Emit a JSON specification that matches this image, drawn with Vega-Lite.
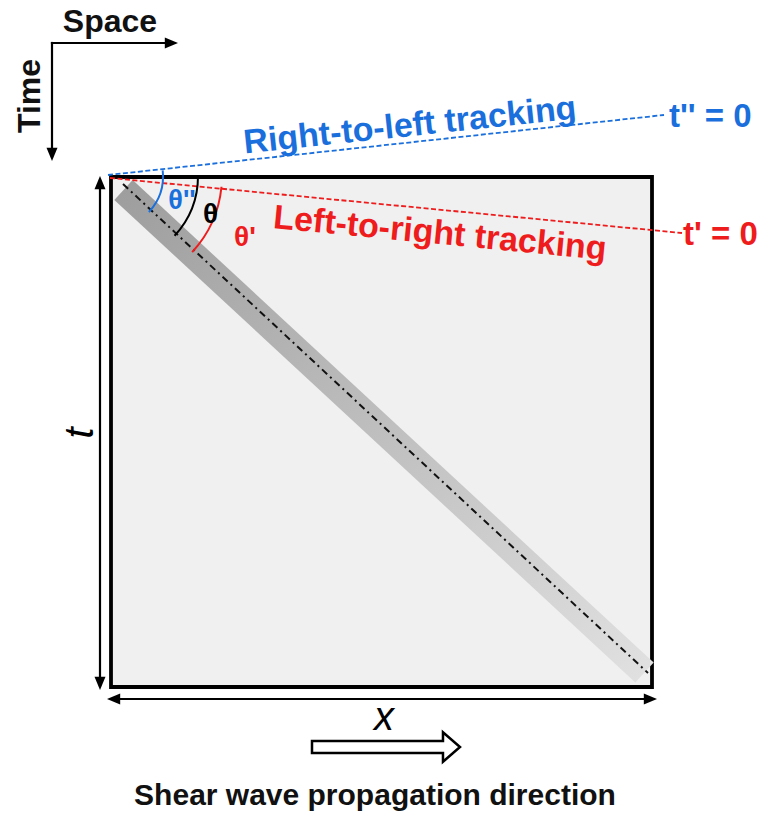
{
  "$schema": "https://vega.github.io/schema/vega-lite/v6.json",
  "width": 763,
  "height": 814,
  "autosize": {"type": "fit", "contains": "padding"},
  "padding": 0,
  "background": "white",
  "config": {"view": {"stroke": null}},
  "datasets": {
    "box": [{"x": 111, "y": 177, "x2": 652, "y2": 687}],
    "band": [{"x": 123.5, "y": 190}, {"x": 644.5, "y": 672.5}],
    "center": [{"x": 123, "y": 184, "x2": 648, "y2": 673}],
    "blue": [{"x": 108, "y": 175, "x2": 664, "y2": 115}],
    "red": [{"x": 110, "y": 178, "x2": 682, "y2": 233}],
    "arcs": [
      {"name": "blue", "x": 110, "y": 176, "a1": 1.463, "a2": 2.318},
      {"name": "black", "x": 110, "y": 176, "a1": 1.571, "a2": 2.318},
      {"name": "red", "x": 110, "y": 176, "a1": 1.667, "a2": 2.318}
    ],
    "arrows": [
      {"name": "space", "x": 52, "y": 43, "x2": 168, "y2": 43},
      {"name": "time", "x": 52, "y": 43, "x2": 52, "y2": 150},
      {"name": "t", "x": 100, "y": 186, "x2": 100, "y2": 680},
      {"name": "x", "x": 117, "y": 699, "x2": 647, "y2": 699}
    ],
    "heads": [
      {"x": 178, "y": 43, "dir": "right"},
      {"x": 52, "y": 161, "dir": "down"},
      {"x": 100, "y": 176, "dir": "up"},
      {"x": 100, "y": 690, "dir": "down"},
      {"x": 107, "y": 699, "dir": "left"},
      {"x": 657, "y": 699, "dir": "right"}
    ],
    "hollow": [{"x": 386, "y": 747}],
    "labels": [
      {"key": "space", "text": "Space", "x": 110, "y": 32},
      {"key": "time", "text": "Time", "x": 40, "y": 96},
      {"key": "rtl", "text": "Right-to-left tracking", "x": 411, "y": 136},
      {"key": "t2", "text": "t'' = 0", "x": 669, "y": 127},
      {"key": "ltr", "text": "Left-to-right tracking", "x": 439, "y": 244},
      {"key": "t1", "text": "t' = 0", "x": 683, "y": 245},
      {"key": "th2", "text": "θ''", "x": 182, "y": 209},
      {"key": "th", "text": "θ", "x": 210.5, "y": 223},
      {"key": "th1", "text": "θ'", "x": 245, "y": 246},
      {"key": "tlab", "text": "t", "x": 93, "y": 433},
      {"key": "xlab", "text": "x", "x": 384, "y": 730},
      {"key": "bottom", "text": "Shear wave propagation direction", "x": 375, "y": 805}
    ]
  },
  "encoding": {
    "x": {"field": "x", "type": "quantitative", "scale": {"domain": [0, 763], "nice": false, "zero": false}, "axis": null},
    "y": {"field": "y", "type": "quantitative", "scale": {"domain": [0, 814], "nice": false, "zero": false, "reverse": true}, "axis": null}
  },
  "layer": [
    {
      "data": {"name": "box"},
      "mark": {"type": "rect", "fill": "#f0f0f0", "stroke": "#000000", "strokeWidth": 3.8},
      "encoding": {"x2": {"field": "x2"}, "y2": {"field": "y2"}}
    },
    {
      "data": {"name": "band"},
      "mark": {"type": "line", "strokeWidth": 27, "strokeCap": "butt",
        "stroke": {"gradient": "linear", "x1": 0, "y1": 0, "x2": 1, "y2": 1,
          "stops": [{"offset": 0, "color": "#9e9e9e"}, {"offset": 1, "color": "#e0e0e0"}]}},
      "encoding": {}
    },
    {
      "data": {"name": "center"},
      "mark": {"type": "rule", "stroke": "#111111", "strokeWidth": 2, "strokeDash": [7, 4, 2, 4]},
      "encoding": {"x2": {"field": "x2"}, "y2": {"field": "y2"}}
    },
    {
      "data": {"name": "blue"},
      "mark": {"type": "rule", "stroke": "#1a6fdc", "strokeWidth": 1.8, "strokeDash": [5, 2.5]},
      "encoding": {"x2": {"field": "x2"}, "y2": {"field": "y2"}}
    },
    {
      "data": {"name": "red"},
      "mark": {"type": "rule", "stroke": "#ee1c1c", "strokeWidth": 1.8, "strokeDash": [5, 2.5]},
      "encoding": {"x2": {"field": "x2"}, "y2": {"field": "y2"}}
    },
    {
      "data": {"name": "arcs"},
      "transform": [{"filter": "datum.name === 'blue'"}],
      "mark": {"type": "arc", "radius": 54, "radius2": 52, "fill": "#1a6fdc"},
      "encoding": {
        "theta": {"field": "a1", "type": "quantitative", "scale": null, "stack": null},
        "theta2": {"field": "a2"}
      }
    },
    {
      "data": {"name": "arcs"},
      "transform": [{"filter": "datum.name === 'black'"}],
      "mark": {"type": "arc", "radius": 89, "radius2": 87, "fill": "#000000"},
      "encoding": {
        "theta": {"field": "a1", "type": "quantitative", "scale": null, "stack": null},
        "theta2": {"field": "a2"}
      }
    },
    {
      "data": {"name": "arcs"},
      "transform": [{"filter": "datum.name === 'red'"}],
      "mark": {"type": "arc", "radius": 113, "radius2": 111, "fill": "#ee1c1c"},
      "encoding": {
        "theta": {"field": "a1", "type": "quantitative", "scale": null, "stack": null},
        "theta2": {"field": "a2"}
      }
    },
    {
      "data": {"name": "arrows"},
      "mark": {"type": "rule", "stroke": "#000000", "strokeWidth": 2.2, "strokeCap": "square"},
      "encoding": {"x2": {"field": "x2"}, "y2": {"field": "y2"}}
    },
    {
      "data": {"name": "heads"},
      "mark": {"type": "point", "filled": true, "opacity": 1, "size": 121, "fill": "#000000", "strokeWidth": 0},
      "encoding": {
        "shape": {"field": "dir", "type": "nominal", "legend": null,
          "scale": {"domain": ["right", "left", "up", "down"],
            "range": ["M0,0L-2.4,-1L-2.4,1Z", "M0,0L2.4,-1L2.4,1Z", "M0,0L-1,2.4L1,2.4Z", "M0,0L-1,-2.4L1,-2.4Z"]}}
      }
    },
    {
      "data": {"name": "hollow"},
      "mark": {"type": "point", "filled": true, "opacity": 1, "size": 21904, "fill": "#ffffff", "stroke": "#000000", "strokeWidth": 2.5,
        "shape": "M-1,-0.081L0.77,-0.081L0.77,-0.2L1,0L0.77,0.2L0.77,0.081L-1,0.081Z"}
    },
    {
      "data": {"name": "labels"},
      "transform": [{"filter": "datum.key === 'bottom'"}],
      "mark": {"type": "text", "font": "Liberation Sans", "fontWeight": "bold", "fontSize": 30, "align": "center", "baseline": "alphabetic", "fill": "#111111"},
      "encoding": {"text": {"field": "text"}}
    },
    {
      "data": {"name": "labels"},
      "transform": [{"filter": "datum.key === 'space'"}],
      "mark": {"type": "text", "font": "Liberation Sans", "fontWeight": "bold", "fontSize": 32, "align": "center", "baseline": "alphabetic", "fill": "#111111"},
      "encoding": {"text": {"field": "text"}}
    },
    {
      "data": {"name": "labels"},
      "transform": [{"filter": "datum.key === 'time'"}],
      "mark": {"type": "text", "font": "Liberation Sans", "fontWeight": "bold", "fontSize": 32, "align": "center", "baseline": "alphabetic", "angle": 270, "fill": "#111111"},
      "encoding": {"text": {"field": "text"}}
    },
    {
      "data": {"name": "labels"},
      "transform": [{"filter": "datum.key === 'rtl'"}],
      "mark": {"type": "text", "font": "Liberation Sans", "fontWeight": "bold", "fontSize": 34, "align": "center", "baseline": "alphabetic", "angle": 354, "fill": "#1a6fdc"},
      "encoding": {"text": {"field": "text"}}
    },
    {
      "data": {"name": "labels"},
      "transform": [{"filter": "datum.key === 't2'"}],
      "mark": {"type": "text", "font": "Liberation Sans", "fontWeight": "bold", "fontSize": 33, "align": "left", "baseline": "alphabetic", "fill": "#1a6fdc"},
      "encoding": {"text": {"field": "text"}}
    },
    {
      "data": {"name": "labels"},
      "transform": [{"filter": "datum.key === 'ltr'"}],
      "mark": {"type": "text", "font": "Liberation Sans", "fontWeight": "bold", "fontSize": 34, "align": "center", "baseline": "alphabetic", "angle": 5.5, "fill": "#ee1c1c"},
      "encoding": {"text": {"field": "text"}}
    },
    {
      "data": {"name": "labels"},
      "transform": [{"filter": "datum.key === 't1'"}],
      "mark": {"type": "text", "font": "Liberation Sans", "fontWeight": "bold", "fontSize": 33, "align": "left", "baseline": "alphabetic", "fill": "#ee1c1c"},
      "encoding": {"text": {"field": "text"}}
    },
    {
      "data": {"name": "labels"},
      "transform": [{"filter": "datum.key === 'th2'"}],
      "mark": {"type": "text", "font": "Liberation Sans", "fontWeight": "bold", "fontSize": 27, "align": "center", "baseline": "alphabetic", "fill": "#1a6fdc"},
      "encoding": {"text": {"field": "text"}}
    },
    {
      "data": {"name": "labels"},
      "transform": [{"filter": "datum.key === 'th'"}],
      "mark": {"type": "text", "font": "Liberation Sans", "fontWeight": "bold", "fontSize": 28, "align": "center", "baseline": "alphabetic", "fill": "#000000"},
      "encoding": {"text": {"field": "text"}}
    },
    {
      "data": {"name": "labels"},
      "transform": [{"filter": "datum.key === 'th1'"}],
      "mark": {"type": "text", "font": "Liberation Sans", "fontWeight": "bold", "fontSize": 28, "align": "center", "baseline": "alphabetic", "fill": "#ee1c1c"},
      "encoding": {"text": {"field": "text"}}
    },
    {
      "data": {"name": "labels"},
      "transform": [{"filter": "datum.key === 'tlab'"}],
      "mark": {"type": "text", "font": "Liberation Sans", "fontStyle": "italic", "fontSize": 40, "align": "center", "baseline": "alphabetic", "angle": 270, "fill": "#000000"},
      "encoding": {"text": {"field": "text"}}
    },
    {
      "data": {"name": "labels"},
      "transform": [{"filter": "datum.key === 'xlab'"}],
      "mark": {"type": "text", "font": "Liberation Sans", "fontStyle": "italic", "fontSize": 40, "align": "center", "baseline": "alphabetic", "fill": "#000000"},
      "encoding": {"text": {"field": "text"}}
    }
  ]
}
